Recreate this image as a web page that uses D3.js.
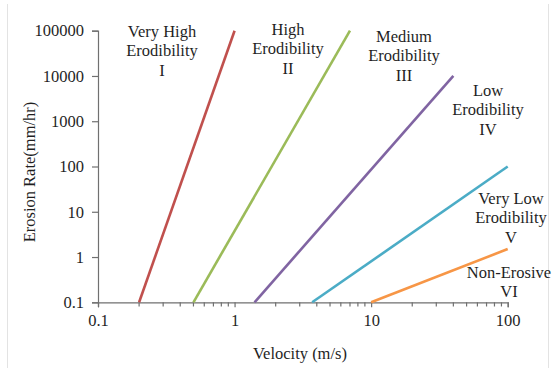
<!DOCTYPE html>
<html>
<head>
<meta charset="utf-8">
<script src="https://cdn.jsdelivr.net/npm/d3@7/dist/d3.min.js"></script>
<style>
  html, body { margin: 0; padding: 0; background: #fff; }
  svg { display: block; }
  text { font-family: "Liberation Serif", "Times New Roman", serif; fill: #1f1f1f; }
</style>
</head>
<body>
<svg id="chart" width="552" height="371"></svg>
<script>
// ---- data ----
const classNames = ["Very High Erodibility I", "High Erodibility II", "Medium Erodibility III", "Low Erodibility IV", "Very Low Erodibility V", "Non-Erosive VI"];
const labelLines = [
  ["Very High", "Erodibility", "I"],
  ["High", "Erodibility", "II"],
  ["Medium", "Erodibility", "III"],
  ["Low", "Erodibility", "IV"],
  ["Very Low", "Erodibility", "V"],
  ["Non-Erosive", "VI"]
];
const velocityStart = [0.2, 0.5, 1.4, 3.7, 10];
const velocityEnd   = [1, 7, 40, 100, 100];
const rateStart     = [0.1, 0.1, 0.1, 0.1, 0.1];
const rateEnd       = [100000, 100000, 10000, 100, 1.5];
const xTicks = [0.1, 1, 10, 100];
const yTicks = [0.1, 1, 10, 100, 1000, 10000, 100000];
const xTickLabels = ["0.1", "1", "10", "100"];
const yTickLabels = ["0.1", "1", "10", "100", "1000", "10000", "100000"];

// ---- layout / style ----
const colors = ["#C0504D", "#9BBB59", "#8064A2", "#4BACC6", "#F79646"];
const labelPos = [
  {x: 162, y: 36.5}, {x: 288, y: 34.5}, {x: 404, y: 41.5},
  {x: 488, y: 95.5}, {x: 511, y: 203.5}, {x: 509, y: 277.5}
];
const lineGap = 19.5;
const fs = 16.5;

const svg = d3.select("#chart");

// faint outer frame sides
svg.append("line").attr("x1", 7.5).attr("x2", 7.5).attr("y1", 4).attr("y2", 368)
  .attr("stroke", "#e3e3e3").attr("stroke-width", 1);
svg.append("line").attr("x1", 548.5).attr("x2", 548.5).attr("y1", 4).attr("y2", 368)
  .attr("stroke", "#e3e3e3").attr("stroke-width", 1);

const x = d3.scaleLog().domain([0.1, 100]).range([98, 507.7]);
const y = d3.scaleLog().domain([0.1, 100000]).range([302.3, 30.7]);

const axisColor = "#707070";

// Y axis
const yAxis = d3.axisLeft(y).tickValues(yTicks)
  .tickFormat((d, i) => yTickLabels[i]).tickSize(6).tickPadding(8);
const gy = svg.append("g").attr("transform", "translate(98,0)").call(yAxis);
gy.select(".domain").attr("stroke", axisColor).attr("stroke-width", 1.2);
gy.selectAll(".tick line").attr("stroke", axisColor).attr("stroke-width", 1.2);
gy.selectAll(".tick text").attr("font-size", fs).attr("font-family", "Liberation Serif").attr("fill", "#1f1f1f");

// X axis minor ticks
const minorX = [];
[0.1, 1, 10].forEach(dec => { for (let k = 2; k <= 9; k++) minorX.push(dec * k); });
svg.append("g").selectAll("line").data(minorX).join("line")
  .attr("x1", d => x(d)).attr("x2", d => x(d))
  .attr("y1", 302.3).attr("y2", 306.5)
  .attr("stroke", axisColor).attr("stroke-width", 1.2);

const xAxis = d3.axisBottom(x).tickValues(xTicks)
  .tickFormat((d, i) => xTickLabels[i]).tickSize(5).tickPadding(7);
const gx = svg.append("g").attr("transform", "translate(0,302.3)").call(xAxis);
gx.select(".domain").attr("stroke", axisColor).attr("stroke-width", 1.2);
gx.selectAll(".tick line").attr("stroke", axisColor).attr("stroke-width", 1.2);
gx.selectAll(".tick text").attr("font-size", fs).attr("font-family", "Liberation Serif").attr("fill", "#1f1f1f");

// Lines
const segs = velocityStart.map((v, i) => ({
  pts: [[v, rateStart[i]], [velocityEnd[i], rateEnd[i]]], c: colors[i]
}));
const lineGen = d3.line().x(d => x(d[0])).y(d => y(d[1]));
svg.append("g").selectAll("path").data(segs).join("path")
  .attr("d", d => lineGen(d.pts))
  .attr("fill", "none").attr("stroke", d => d.c).attr("stroke-width", 2.6);

// Class labels
labelLines.forEach((lines, i) => {
  const t = svg.append("text").attr("text-anchor", "middle").attr("font-size", fs);
  lines.forEach((ln, j) => {
    t.append("tspan").attr("x", labelPos[i].x).attr("y", labelPos[i].y + j * lineGap).text(ln);
  });
});

// Axis titles
svg.append("text").attr("text-anchor", "middle").attr("font-size", fs)
  .attr("x", 300).attr("y", 359).text("Velocity (m/s)");
svg.append("text").attr("text-anchor", "middle").attr("font-size", fs)
  .attr("transform", "translate(35,172) rotate(-90)").text("Erosion Rate(mm/hr)");
</script>
</body>
</html>
